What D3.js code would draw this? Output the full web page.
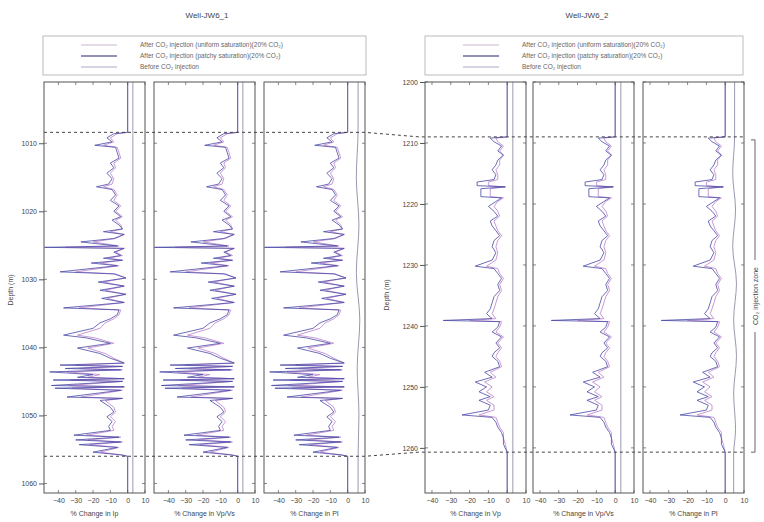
<!DOCTYPE html>
<html><head><meta charset="utf-8">
<script src="https://cdn.jsdelivr.net/npm/d3@7"></script>
<style>
html,body{margin:0;padding:0;background:#fff;}
svg{display:block;font-family:"Liberation Sans",Arial,sans-serif;}
</style></head>
<body><svg id="c" width="764" height="522"></svg>
<script>
// ---------- DATA ----------
const wellTitles = ["Well-JW6_1", "Well-JW6_2"];
const legendLabels = ["After CO\u2082 injection (uniform saturation)(20% CO\u2082)",
                      "After CO\u2082 injection (patchy saturation)(20% CO\u2082)",
                      "Before CO\u2082 injection"];
const xLabelsL = ["% Change in Ip", "% Change in Vp/Vs", "% Change in PI"];
const xLabelsR = ["% Change in Vp", "% Change in Vp/Vs", "% Change in PI"];
const xTicks = [-40, -30, -20, -10, 0, 10];
const yTicksL = [1010, 1020, 1030, 1040, 1050, 1060];
const yTicksR = [1200, 1210, 1220, 1230, 1240, 1250, 1260];
const depthDomainL = [1001, 1061.4];
const depthDomainR = [1200, 1267.4];
const xDomainL = [-48.3, 10];
const xDomainR = [-43.7, 10];
const zoneL = [1008.4, 1056.0];
const zoneR = [1209.0, 1260.7];
const zoneLabel = "CO\u2082 injection zone";

// Well JW6_1 log (depth m, % change)
const depthL = [1001,1008.4,1008.6,1009.2,1009.8,1010.3,1010.6,1011.4,1012.2,1012.9,
  1013.6,1014.4,1015.2,1016.0,1016.4,1016.8,1017.6,1018.4,1019.2,1020.0,
  1020.8,1021.3,1022.0,1022.6,1023.0,1023.4,1024.0,1024.5,1025.1,1025.3,
  1025.45,1026.0,1026.5,1026.9,1027.2,1027.6,1028.0,1028.9,1029.2,1029.8,
  1030.4,1031.0,1031.6,1032.2,1032.8,1033.4,1034.2,1034.5,1035.2,1035.8,
  1036.4,1037.2,1038.2,1038.6,1039.4,1040.1,1040.9,1041.6,1042.3,1042.6,
  1042.8,1043.1,1043.3,1043.6,1044.0,1044.4,1044.6,1044.8,1045.0,1045.6,
  1045.8,1046.0,1046.3,1047.3,1047.5,1047.8,1048.8,1049.5,1050.2,1050.9,
  1051.6,1052.2,1052.9,1053.2,1053.6,1053.9,1054.3,1054.7,1055.4,1055.8,
  1056.0,1061.4];
const patchyL = [0,0,-8,-12,-9,-19,-7,-6,-5,-10,
  -8,-12,-9,-11,-18,-9,-7,-10,-5,-8,
  -4,-9,-5,-3,-14,-2,-8,-27,-6,-48,
  -2,-8,-4,-14,-3,-21,-6,-39,-8,-1,
  -17,-2,-16,-1,-15,-2,-37,-5,-6,-10,
  -16,-20,-37,-24,-10,-29,-16,-10,-2,-39,
  -3,-36,-4,-45,-20,-29,-2,-43,-3,-44,
  -2,-42,-4,-35,-3,-16,-10,-8,-12,-9,
  -11,-10,-31,-5,-30,-4,-28,-6,-20,-4,
  0,0];
const uniformL = [0,0,-6,-10,-8,-14,-6,-5,-4,-8,
  -7,-10,-8,-9,-14,-8,-6,-8,-4,-7,
  -3,-7,-4,-3,-10,-2,-7,-20,-5,-36,
  -2,-7,-3,-11,-3,-16,-5,-30,-7,-1,
  -14,-2,-13,-1,-12,-2,-28,-4,-5,-8,
  -13,-16,-29,-19,-8,-23,-13,-8,-2,-30,
  -3,-28,-3,-35,-16,-23,-2,-33,-3,-34,
  -2,-32,-3,-27,-3,-13,-8,-7,-10,-7,
  -9,-8,-24,-4,-23,-3,-22,-5,-16,-3,
  0,0];

// Well JW6_2 log
const depthR = [1200,1209.0,1209.2,1209.8,1210.5,1211.3,1212.0,1212.8,1213.6,1214.4,
  1215.2,1216.0,1216.4,1217.0,1217.2,1217.5,1218.8,1219.0,1219.6,1220.4,
  1221.2,1222.0,1222.8,1223.6,1224.4,1225.2,1226.0,1227.0,1228.0,1229.2,
  1230.2,1230.6,1231.4,1232.2,1233.2,1234.2,1235.2,1236.2,1237.2,1238.0,
  1238.8,1239.1,1239.3,1240.2,1241.0,1241.8,1242.8,1243.6,1244.4,1245.0,
  1245.8,1246.7,1247.6,1248.4,1249.2,1250.0,1250.8,1251.6,1252.2,1253.0,
  1253.8,1254.6,1255.0,1255.8,1256.6,1257.5,1258.4,1259.4,1260.7,1267.4];
const patchyR = [0,0,-9,-7,-3,-5,-2,-5,-6,-8,
  -6,-7,-16,-16,-1,-14,-14,-3,-6,-10,
  -7,-5,-9,-8,-6,-4,-7,-8,-6,-8,
  -17,-7,-5,-3,-5,-4,-7,-8,-9,-11,
  -8,-34,-4,-5,-8,-3,-6,-4,-7,-8,
  -5,-4,-12,-8,-17,-11,-15,-9,-15,-9,
  -10,-24,-8,-6,-5,-3,-2,-2,0,0];
const uniformR = [0,0,-6,-5,-2,-4,-2,-4,-4,-6,
  -5,-5,-10,-10,-1,-9,-9,-2,-5,-7,
  -5,-4,-7,-6,-5,-3,-5,-6,-5,-6,
  -11,-5,-4,-2,-4,-3,-5,-6,-7,-8,
  -6,-20,-3,-4,-6,-2,-5,-3,-5,-6,
  -4,-3,-9,-6,-12,-8,-11,-7,-11,-7,
  -7,-15,-6,-5,-4,-2,-2,-1,0,0];

// "Before" reference curves
const beforeDepthL = [1001,1008,1015,1022,1029,1036,1043,1050,1056,1061.4];
const beforeFlatL  = [3,3,3,3,3,3,3,3,3,3];
const beforePIL    = [6,6,5,6.5,5,7,5.5,6.5,6,6];
const beforeDepthR = [1200,1209,1215,1221,1227,1233,1239,1245,1251,1257,1261,1267.4];
const beforeFlatR  = [3,3,3,3,3,3,3,3,3,3,3,3];
const beforePIR    = [5,5,4,5.5,4,6,4.5,6,4.5,5.5,4.5,4.5];

(function(){
const colUniform = "#c99ad3", colPatchy = "#4a4aa8", colBefore = "#8d8da6";
const legendCols = ["#c9b3cd", "#6c6ca0", "#a9aac8"];
const frameCol = "#555", textCol = "#444";

const svg = d3.select("#c");

const wells = [
  {title: wellTitles[0], depth: depthL, patchy: patchyL, uniform: uniformL,
   yDom: depthDomainL, xDom: xDomainL, zone: zoneL, yTicks: yTicksL, xLabels: xLabelsL,
   bDepth: beforeDepthL, bFlat: beforeFlatL, bPI: beforePIL,
   panels: [44, 154, 264], titleX: 207, legend: [43, 366], depthLabelX: 13},
  {title: wellTitles[1], depth: depthR, patchy: patchyR, uniform: uniformR,
   yDom: depthDomainR, xDom: xDomainR, zone: zoneR, yTicks: yTicksR, xLabels: xLabelsR,
   bDepth: beforeDepthR, bFlat: beforeFlatR, bPI: beforePIR,
   panels: [425, 533, 643], titleX: 587, legend: [425, 743], depthLabelX: 389}
];
const pw = 101, topY = 82, botY = 493;

wells.forEach(w => {
  const y = d3.scaleLinear().domain(w.yDom).range([topY, botY]);
  w.y = y;
  svg.append("text").attr("x", w.titleX).attr("y", 18).attr("text-anchor", "middle")
    .attr("font-size", 8).attr("fill", textCol).text(w.title);
  const lg = svg.append("g");
  lg.append("rect").attr("x", w.legend[0]).attr("y", 36).attr("width", w.legend[1]-w.legend[0])
    .attr("height", 39).attr("fill", "none").attr("stroke", "#aaa").attr("stroke-width", 0.8);
  legendLabels.forEach((t, i) => {
    const ly = 45 + i * 11;
    lg.append("line").attr("x1", w.legend[0]+38).attr("x2", w.legend[0]+74)
      .attr("y1", ly).attr("y2", ly).attr("stroke", legendCols[i]).attr("stroke-width", i===1?1.4:1.1);
    lg.append("text").attr("x", w.legend[0]+97).attr("y", ly+2.3).attr("font-size", 6.5)
      .attr("fill", "#666").text(t);
  });
  svg.append("text").attr("transform", `translate(${w.depthLabelX},${w.depthLabelX<100?290:295}) rotate(-90)`)
    .attr("text-anchor", "middle").attr("font-size", 7).attr("fill", textCol).text("Depth (m)");

  w.panels.forEach((px, pi) => {
    const x = d3.scaleLinear().domain(w.xDom).range([px, px + pw]);
    const g = svg.append("g");
    const line = d3.line().x(d => x(d[1])).y(d => y(d[0]));
    const bVals = pi === 2 ? w.bPI : w.bFlat;
    g.append("path").datum(w.bDepth.map((d, i) => [d, bVals[i]]))
      .attr("d", d3.line().x(d => x(d[1])).y(d => y(d[0])).curve(d3.curveMonotoneY))
      .attr("fill", "none").attr("stroke", colBefore).attr("stroke-width", 0.9);
    g.append("path").datum(w.depth.map((d, i) => [d, w.uniform[i]]))
      .attr("d", line).attr("fill", "none").attr("stroke", colUniform).attr("stroke-width", 1);
    g.append("path").datum(w.depth.map((d, i) => [d, w.patchy[i]]))
      .attr("d", line).attr("fill", "none").attr("stroke", colPatchy).attr("stroke-width", 0.9)
      .attr("stroke-opacity", 0.9);
    g.append("rect").attr("x", px).attr("y", topY).attr("width", pw).attr("height", botY - topY)
      .attr("fill", "none").attr("stroke", frameCol).attr("stroke-width", 1);
    const xa = d3.axisBottom(x).tickValues(xTicks).tickSize(0).tickPadding(0);
    const xg = g.append("g").attr("transform", `translate(0,${botY + 5})`).call(xa);
    xg.select(".domain").remove();
    xg.selectAll("text").attr("font-size", 7).attr("fill", textCol).attr("font-family", null);
    xTicks.forEach(t => {
      g.append("line").attr("x1", x(t)).attr("x2", x(t)).attr("y1", topY).attr("y2", topY + 3)
        .attr("stroke", frameCol).attr("stroke-width", 0.7);
      g.append("line").attr("x1", x(t)).attr("x2", x(t)).attr("y1", botY).attr("y2", botY - 3)
        .attr("stroke", frameCol).attr("stroke-width", 0.7);
    });
    g.append("text").attr("x", px + pw / 2).attr("y", botY + 23).attr("text-anchor", "middle")
      .attr("font-size", 7).attr("fill", textCol).text(w.xLabels[pi]);
    w.yTicks.forEach(t => {
      [[px, px + 3], [px + pw, px + pw - 3]].forEach(([a, b]) => {
        g.append("line").attr("x1", a).attr("x2", b).attr("y1", y(t)).attr("y2", y(t))
          .attr("stroke", frameCol).attr("stroke-width", 0.7);
      });
    });
  });
  const ya = d3.axisLeft(y).tickValues(w.yTicks).tickSize(5).tickPadding(2).tickFormat(d3.format("d"));
  const yg = svg.append("g").attr("transform", `translate(${w.panels[0]},0)`).call(ya);
  yg.select(".domain").remove();
  yg.selectAll("line").attr("stroke", frameCol);
  yg.selectAll("text").attr("font-size", 7).attr("fill", textCol).attr("font-family", null);
});

const L = wells[0], R = wells[1];
[0, 1].forEach(k => {
  const pts = [[L.panels[0], L.y(L.zone[k])], [L.panels[2] + pw, L.y(L.zone[k])],
               [R.panels[0] - 6, R.y(R.zone[k])], [R.panels[2] + pw, R.y(R.zone[k])]];
  svg.append("path").attr("d", d3.line()(pts)).attr("fill", "none")
    .attr("stroke", "#444").attr("stroke-width", 1).attr("stroke-dasharray", "3,3");
});

const bx = 755, by0 = R.y(R.zone[0]) + 3, by1 = R.y(R.zone[1]);
const bmid = (by0 + by1) / 2;
const bg = svg.append("g").attr("stroke", "#666").attr("stroke-width", 1).attr("fill", "none");
bg.append("path").attr("d", `M${bx-4},${by0}H${bx}V${bmid-36}`);
bg.append("path").attr("d", `M${bx},${bmid+36}V${by1}H${bx-4}`);
svg.append("text").attr("transform", `translate(${bx+2.5},${bmid}) rotate(-90)`)
  .attr("text-anchor", "middle").attr("font-size", 7).attr("fill", textCol).text(zoneLabel);
})();
</script></body></html>
